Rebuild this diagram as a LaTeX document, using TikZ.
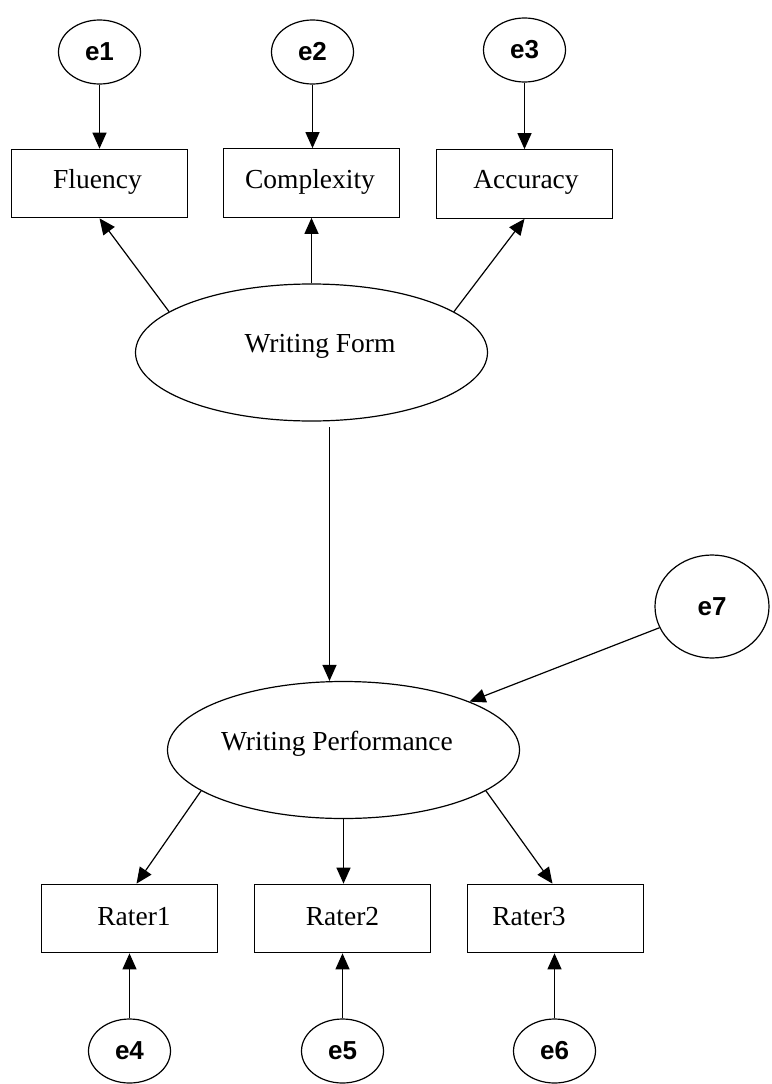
\documentclass[tikz,border=0pt]{standalone}
\usepackage{fontspec}
\setmainfont{Liberation Serif}
\newfontfamily\errfont{Liberation Sans}
\usetikzlibrary{shapes.geometric,arrows.meta}

\begin{document}
\begin{tikzpicture}[x=1pt,y=-1pt,
  obsbox/.style={draw, rectangle, line width=1.2pt, minimum width=176pt,
    minimum height=68.5pt, inner sep=0pt},
  latent/.style={draw, ellipse, line width=1.2pt, minimum width=352pt,
    minimum height=137pt, inner sep=0pt},
  errvar/.style={draw, ellipse, line width=1.2pt, minimum width=82pt,
    minimum height=64pt, inner sep=0pt,
    font=\errfont\bfseries\fontsize{26}{30}\selectfont},
  txt/.style={font=\fontsize{27.5}{32}\selectfont, anchor=base},
  link/.style={-{Triangle[length=16pt,width=14pt]}, line width=1.2pt}
]
% canvas
\path[fill=white, use as bounding box] (0,0) rectangle (771,1084);

% error terms of the indicators
\node[errvar] (e1) at (99.5,52) {e1};
\node[errvar] (e2) at (312.5,52) {e2};
\node[errvar] (e3) at (524.5,50) {e3};

% indicators of Writing Form
\node[obsbox, label={[txt, xshift=-2pt, yshift=1.5pt]center:Fluency}] (flu) at (99.5,183.5) {};
\node[obsbox, label={[txt, xshift=-1.5pt, yshift=1pt]center:Complexity}] (cpx) at (311.5,183) {};
\node[obsbox, label={[txt, xshift=1.5pt, yshift=2pt]center:Accuracy}] (acc) at (524.5,184) {};

% latent variables
\node[latent, label={[txt, xshift=8.5pt, yshift=6pt]center:Writing Form}] (wf) at (311.5,352.5) {};
\node[latent, label={[txt, xshift=-6.5pt, yshift=6pt]center:Writing Performance}] (wp) at (343.5,750) {};

% disturbance of Writing Performance
\node[errvar, minimum width=114pt, minimum height=103pt] (e7) at (712,606.5) {e7};

% indicators of Writing Performance
\node[obsbox, label={[txt, xshift=4.5pt, yshift=1.8pt]center:Rater1}] (r1) at (129.5,918.5) {};
\node[obsbox, label={[txt, xshift=0pt, yshift=1.5pt]center:Rater2}] (r2) at (342.5,918.5) {};
\node[obsbox, label={[txt, xshift=-26.5pt, yshift=1.5pt]center:Rater3}] (r3) at (555.5,918.5) {};

% error terms of the raters
\node[errvar] (e4) at (129.5,1051) {e4};
\node[errvar] (e5) at (342.5,1051) {e5};
\node[errvar] (e6) at (554.5,1051) {e6};

% error -> indicator paths
\draw[link] (e1.south) -- (e1.south |- flu.north);
\draw[link] (e2.south) -- (e2.south |- cpx.north);
\draw[link] (e3.south) -- (e3.south |- acc.north);
\draw[link] (e4.north) -- (e4.north |- r1.south);
\draw[link] (e5.north) -- (e5.north |- r2.south);
\draw[link] (e6.north) -- (e6.north |- r3.south);

% loadings of Writing Form
\draw[link] (wf.164) -- (flu.south);
\draw[link] (wf.north) -- (wf.north |- cpx.south);
\draw[link] (wf.16) -- (acc.south);

% structural path
\coordinate (wfout) at (329.5,427);
\draw[link] (wfout) -- (wfout |- wp.north);

% disturbance path
\draw[link] (e7.202.5) -- (wp.21);

% loadings of Writing Performance
\draw[link] (wp.196) -- ([xshift=7pt]r1.north);
\draw[link] (wp.south) -- (wp.south |- r2.north);
\draw[link] (wp.344) -- ([xshift=-3pt]r3.north);
\end{tikzpicture}
\end{document}
